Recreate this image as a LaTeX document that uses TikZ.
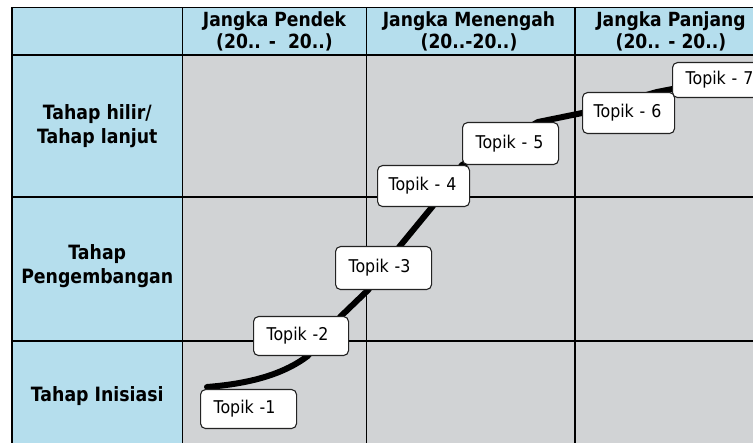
\documentclass[tikz,border=0pt]{standalone}
\usepackage{fontspec}
\setmainfont{DejaVu Sans}
\newfontfamily\hdrfont[FakeStretch=0.88]{DejaVu Sans}
\newfontfamily\tpfont[FakeStretch=0.9]{DejaVu Sans}
\usetikzlibrary{calc}
\definecolor{hdrblue}{RGB}{181,222,237}
\definecolor{cellgray}{RGB}{209,211,213}
\definecolor{boxedge}{RGB}{35,35,35}
\pgfdeclarelayer{gridlayer}
\pgfdeclarelayer{roadlayer}
\pgfsetlayers{gridlayer,roadlayer,main}
\begin{document}
\begin{tikzpicture}[x=1pt,y=1pt,
  hdr/.style={font=\hdrfont\bfseries\fontsize{19.5}{21.5}\selectfont, align=center, inner sep=0pt},
  side/.style={font=\hdrfont\bfseries\fontsize{19.7}{23.5}\selectfont, align=center, inner sep=0pt},
  topik/.style={draw=boxedge, line width=1.1pt, fill=white, rounded corners=5pt,
    anchor=north west, align=left, inner xsep=13pt, inner ysep=0pt,
    font=\tpfont\fontsize{17.6}{20}\selectfont},
  narrow/.style={inner xsep=11pt},
  road/.style={line width=6pt, black, line join=round, line cap=round},
  gridline/.style={line width=1.2pt, black}]
\useasboundingbox (0,0) rectangle (753,443);
\begin{pgfonlayer}{gridlayer}
  \fill[white] (0,0) rectangle (753,443);
  \fill[hdrblue] (12,0) rectangle (182.5,435.5);
  \fill[hdrblue] (182.5,388) rectangle (753,435.5);
  \fill[cellgray] (182.5,0) rectangle (753,388);
  \draw[gridline] (12,0) -- (12,435.5) -- (753,435.5);
  \draw[gridline] (12,388) -- (753,388);
  \draw[gridline] (12,246) -- (753,246);
  \draw[gridline] (12,102) -- (753,102);
  \foreach \x in {182.5,366.5,575} \draw[gridline] (\x,0) -- (\x,435.5);
\end{pgfonlayer}
% headers
\node[hdr] (h1) at (274.5,411.75) {Jangka Pendek\\(20.. -\ \ 20..)};
\node[hdr] (h2) at (469,411.75) {Jangka Menengah\\(20..-20..)};
\node[hdr] (h3) at (671,411.75) {Jangka Panjang\\(20.. - 20..)};
% side labels
\node[side] (s1) at (97.25,317) {Tahap hilir/\\Tahap lanjut};
\node[side] (s2) at (97.25,177) {Tahap\\Pengembangan};
\node[side] (s3) at (97.25,47) {Tahap Inisiasi};
% topics
\node[topik, text width=70pt, minimum height=39pt] (t1) at (200,54) {Topik -1};
\node[topik, text width=69pt, minimum height=39pt] (t2) at (253,127) {Topik -2};
\node[topik, text width=70pt, minimum height=43pt] (t3) at (335,197) {Topik -3};
\node[topik, narrow, text width=70pt, minimum height=41pt] (t4) at (377,278) {Topik - 4};
\node[topik, text width=70pt, minimum height=42pt] (t5) at (462,321) {Topik - 5};
\node[topik, narrow, text width=70pt, minimum height=41pt] (t6) at (582,351) {Topik - 6};
\node[topik, text width=70pt, minimum height=35pt] (t7) at (672,381) {Topik - 7};
\begin{pgfonlayer}{roadlayer}
  \draw[road] ([shift={(7,2)}]t1.north west) .. controls +(38,3) and +(-26.5,-20) .. ([xshift=6.5]t2.south)
    -- ([xshift=-8]t2.north east) -- ([xshift=33]t3.south west) -- ([xshift=65]t3.north west)
    -- ([xshift=55]t4.south west) -- (t5.south west) -- ([xshift=76]t5.north west)
    -- (t6.west) -- ([xshift=75]t6.north west) -- ([yshift=9]t7.south west) -- (t7.center);
\end{pgfonlayer}
\end{tikzpicture}
\end{document}
